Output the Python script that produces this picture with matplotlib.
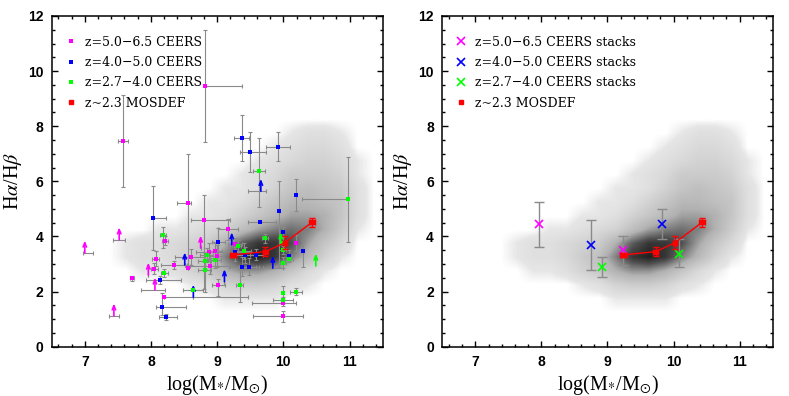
import numpy as np
import matplotlib
matplotlib.use("Agg")
import matplotlib.pyplot as plt
from matplotlib.colors import LinearSegmentedColormap
from matplotlib.ticker import MultipleLocator

plt.rcParams['mathtext.fontset'] = 'stix'

# ---- background cloud: grey level (0 = empty, 10 = black) ----
# cells are 0.25 dex wide in x (7.5..11.5) and 0.5 tall in y (1.5..8.0)
cloud_x_edges = [7.5, 11.5]
cloud_y_edges = [1.5, 8.0]
cloud_density = np.array([
    # x: 7.6  7.9  8.1  8.4  8.6  8.9  9.1  9.4  9.6  9.9 10.1 10.4 10.6 10.9 11.1 11.4
    [0.0, 0.0, 0.0, 0.0, 0.0, 0.0, 0.5, 0.5, 0.5, 0.5, 0.0, 0.0, 0.0, 0.0, 0.0, 0.0],  # y 1.75
    [0.0, 0.0, 0.0, 0.0, 0.5, 1.0, 2.0, 2.5, 2.5, 2.0, 1.0, 0.5, 0.0, 0.0, 0.0, 0.0],  # y 2.25
    [0.0, 0.5, 0.5, 1.0, 2.0, 3.0, 4.5, 5.5, 5.5, 4.5, 3.0, 1.5, 0.5, 0.0, 0.0, 0.0],  # y 2.75
    [0.5, 1.0, 1.0, 1.5, 2.5, 3.5, 6.0, 8.5, 9.5, 8.5, 6.0, 4.0, 2.0, 0.5, 0.0, 0.0],  # y 3.25
    [0.5, 1.0, 1.0, 1.5, 2.0, 2.5, 4.5, 7.0, 8.5, 8.5, 7.5, 5.0, 3.0, 1.5, 0.0, 0.0],  # y 3.75
    [0.0, 0.0, 0.5, 0.5, 1.0, 1.5, 2.0, 3.5, 5.0, 6.0, 6.5, 6.0, 4.5, 2.5, 0.5, 0.0],  # y 4.25
    [0.0, 0.0, 0.0, 0.0, 0.5, 0.5, 1.0, 2.0, 3.0, 4.0, 5.0, 5.0, 4.5, 3.0, 1.0, 0.0],  # y 4.75
    [0.0, 0.0, 0.0, 0.0, 0.0, 0.5, 0.5, 1.0, 2.0, 3.0, 4.0, 4.0, 3.5, 3.0, 1.0, 0.0],  # y 5.25
    [0.0, 0.0, 0.0, 0.0, 0.0, 0.0, 0.5, 0.5, 1.0, 2.0, 3.0, 3.5, 3.0, 2.5, 1.0, 0.0],  # y 5.75
    [0.0, 0.0, 0.0, 0.0, 0.0, 0.0, 0.0, 0.5, 1.0, 1.5, 2.5, 2.5, 2.5, 2.0, 0.5, 0.0],  # y 6.25
    [0.0, 0.0, 0.0, 0.0, 0.0, 0.0, 0.0, 0.0, 0.5, 1.0, 1.5, 2.0, 2.0, 1.5, 0.5, 0.0],  # y 6.75
    [0.0, 0.0, 0.0, 0.0, 0.0, 0.0, 0.0, 0.0, 0.0, 0.5, 1.0, 1.5, 1.5, 1.0, 0.0, 0.0],  # y 7.25
    [0.0, 0.0, 0.0, 0.0, 0.0, 0.0, 0.0, 0.0, 0.0, 0.0, 0.5, 1.0, 1.0, 0.5, 0.0, 0.0],  # y 7.75
])

# ---- left panel: individual CEERS galaxies (x, y, xerr-, xerr+, yerr-, yerr+) ----
mag_x   = [8.82, 7.58, 8.56, 8.80, 9.16, 8.21, 9.27, 10.19, 8.88, 8.97, 8.99, 8.07, 8.61, 8.89, 8.56, 8.05, 7.71, 9.02, 8.19, 9.99, 9.99, 8.35]
mag_y   = [9.45, 7.47, 5.22, 4.58, 4.27, 3.85, 3.73, 3.76, 3.45, 3.48, 3.30, 3.19, 3.25, 2.93, 2.86, 2.82, 2.48, 2.24, 1.79, 1.59, 1.10, 2.97]
mag_xlo = [0.00, 0.075, 0.17, 0.20, 0.15, 0.05, 0.10, 0.00, 0.20, 0.10, 0.10, 0.05, 0.25, 0.30, 0.00, 0.05, 0.03, 0.10, 0.00, 0.46, 0.45, 0.20]
mag_xhi = [0.56, 0.075, 0.05, 0.39, 0.15, 0.05, 0.10, 0.00, 0.70, 0.10, 0.10, 0.05, 0.20, 0.30, 0.00, 0.05, 0.03, 0.10, 1.27, 0.20, 0.30, 0.20]
mag_ylo = [2.02, 1.69, 0.00, 2.50, 0.40, 0.15, 0.20, 0.30, 0.30, 0.30, 0.40, 0.25, 0.30, 0.30, 0.00, 0.20, 0.10, 0.40, 0.00, 0.10, 0.20, 0.15]
mag_yhi = [2.05, 1.68, 0.00, 0.92, 0.35, 0.15, 0.20, 0.30, 0.30, 0.30, 0.40, 0.30, 0.30, 0.30, 4.14, 0.20, 0.10, 0.20, 0.00, 0.10, 0.20, 0.15]

blue_x   = [9.37, 9.49, 9.92, 10.19, 8.03, 9.65, 9.94, 9.99, 9.02, 9.27, 9.42, 9.59, 10.09, 10.29, 9.38, 9.48, 8.13, 8.17, 8.23]
blue_y   = [7.58, 7.05, 7.26, 5.52, 4.67, 4.52, 4.91, 4.18, 3.79, 3.42, 3.33, 3.33, 3.30, 3.49, 2.91, 2.91, 2.42, 1.44, 1.07]
blue_xlo = [0.11, 0.14, 0.18, 0.00, 0.00, 0.19, 0.00, 0.00, 0.10, 0.15, 0.15, 0.10, 0.00, 0.00, 0.20, 0.15, 0.20, 0.09, 0.11]
blue_xhi = [0.11, 0.25, 0.18, 0.00, 0.20, 0.24, 0.00, 0.00, 0.10, 0.15, 0.15, 0.10, 0.00, 0.00, 0.20, 0.15, 0.33, 0.36, 0.16]
blue_ylo = [0.84, 0.71, 0.53, 0.60, 1.15, 0.00, 2.00, 0.15, 0.50, 0.30, 0.30, 0.20, 0.20, 0.60, 0.35, 0.30, 0.15, 0.30, 0.10]
blue_yhi = [0.83, 0.75, 0.54, 0.55, 1.15, 0.00, 1.10, 0.15, 0.50, 0.30, 0.30, 0.20, 0.20, 0.35, 0.35, 0.30, 0.15, 0.50, 0.10]

green_x   = [9.63, 10.98, 9.72, 9.99, 9.99, 9.99, 10.09, 8.18, 8.20, 8.84, 8.81, 8.81, 8.96, 9.31, 9.41, 9.34, 9.99, 9.99, 10.19, 8.64]
green_y   = [6.36, 5.35, 3.93, 3.77, 3.52, 3.05, 3.19, 4.04, 2.67, 3.34, 3.12, 2.79, 3.15, 3.67, 3.48, 2.23, 1.96, 1.70, 2.00, 2.06]
green_xlo = [0.09, 0.70, 0.05, 0.05, 0.05, 0.05, 0.05, 0.05, 0.05, 0.10, 0.10, 0.10, 0.10, 0.05, 0.10, 0.05, 0.00, 0.15, 0.09, 0.15]
green_xhi = [0.09, 0.00, 0.05, 0.05, 0.05, 0.05, 0.05, 0.05, 0.05, 0.10, 0.10, 0.10, 0.10, 0.05, 0.10, 0.05, 0.00, 0.15, 0.09, 0.15]
green_ylo = [1.28, 1.55, 0.15, 0.20, 0.15, 0.20, 0.10, 0.45, 0.15, 0.25, 0.30, 0.80, 0.30, 0.20, 0.30, 0.60, 0.25, 0.10, 0.12, 0.00]
green_yhi = [1.21, 1.55, 0.15, 0.20, 0.15, 0.20, 0.10, 0.30, 0.15, 0.25, 0.30, 0.60, 0.30, 0.20, 0.30, 0.60, 0.25, 0.10, 0.12, 0.00]

# lower limits (arrows)
mag_lim_x   = [7.00, 7.52, 7.44, 7.96, 8.06, 8.75]
mag_lim_y   = [3.40, 3.88, 1.12, 2.60, 2.06, 3.58]
mag_lim_xlo = [0.03, 0.09, 0.075, 0.00, 0.21, 0.00]
mag_lim_xhi = [0.13, 0.09, 0.075, 0.00, 0.15, 0.00]
blue_lim_x   = [9.66, 8.51, 9.22, 9.11, 8.64, 9.84]
blue_lim_y   = [5.64, 2.97, 3.70, 2.36, 1.80, 2.85]
blue_lim_xlo = [0.20, 0.00, 0.00, 0.00, 0.00, 0.15]
blue_lim_xhi = [0.08, 0.00, 0.00, 0.00, 0.00, 0.15]
green_lim_x   = [10.49, 9.96]
green_lim_y   = [2.93, 3.70]

# ---- z~2.3 MOSDEF stacks ----
mosdef_x    = [9.24, 9.73, 10.02, 10.43]
mosdef_y    = [3.33, 3.45, 3.77, 4.51]
mosdef_xerr = [0.05, 0.04, 0.03, 0.05]
mosdef_yerr = [0.08, 0.15, 0.24, 0.17]

# ---- right panel: CEERS stacks ----
stk_mag_x = [7.97, 9.24]
stk_mag_y = [4.44, 3.51]
stk_mag_ylo = [0.83, 0.56]
stk_mag_yhi = [0.80, 0.52]
stk_blue_x = [8.75, 9.82]
stk_blue_y = [3.68, 4.45]
stk_blue_ylo = [0.90, 0.54]
stk_blue_yhi = [0.91, 0.56]
stk_green_x = [8.92, 10.08]
stk_green_y = [2.90, 3.36]
stk_green_ylo = [0.36, 0.48]
stk_green_yhi = [0.37, 0.54]

MAG, BLUE, GREEN, RED = '#ff00ff', '#0000ff', '#00ff00', '#ff0000'
ERRC = '#8a8a8a'
ARROW_LEN = 0.45

cloud_cmap = LinearSegmentedColormap.from_list(
    'cloud', [(0, 'white'), (0.05, '#e6e6e6'), (0.45, '#b2b2b2'),
              (0.75, '#4e4e4e'), (1, '#141414')])


def style_axes(ax):
    ax.set_xlim(6.5, 11.5)
    ax.set_ylim(0, 12)
    ax.xaxis.set_major_locator(MultipleLocator(1))
    ax.xaxis.set_minor_locator(MultipleLocator(0.2))
    ax.yaxis.set_major_locator(MultipleLocator(2))
    ax.yaxis.set_minor_locator(MultipleLocator(0.5))
    ax.tick_params(which='both', direction='in', top=True, right=True, width=1.0)
    ax.tick_params(which='major', length=4.5, labelsize=10, pad=6)
    ax.tick_params(which='minor', length=2.5)
    for lab in ax.get_xticklabels() + ax.get_yticklabels():
        lab.set_fontweight('bold')
        lab.set_family('Liberation Sans')
    for sp in ax.spines.values():
        sp.set_linewidth(1.1)
    ax.set_xlabel(r'log(M$_{*}$/M$_{\odot}$)', family='Liberation Serif', fontsize=14.5, labelpad=3)
    ax.set_ylabel(r'H$\alpha$/H$\beta$', family='Liberation Serif', fontsize=14.5, labelpad=3)


def draw_cloud(ax):
    # pad with one empty cell all round so the cloud fades out instead of ending in a hard edge
    grid = np.pad(cloud_density, 1)
    nrow, ncol = cloud_density.shape
    dx = (cloud_x_edges[1] - cloud_x_edges[0]) / ncol
    dy = (cloud_y_edges[1] - cloud_y_edges[0]) / nrow
    ax.imshow(grid, origin='lower', aspect='auto', cmap=cloud_cmap,
              vmin=0, vmax=10, interpolation='bilinear',
              extent=[cloud_x_edges[0] - dx, cloud_x_edges[1] + dx,
                      cloud_y_edges[0] - dy, cloud_y_edges[1] + dy],
              zorder=0)


def draw_limits(ax, xs, ys, color, xlo=None, xhi=None):
    if xlo is not None:
        ax.errorbar(xs, ys, xerr=[xlo, xhi], fmt='none', ecolor=ERRC,
                    elinewidth=0.8, capsize=1.5, capthick=0.8, zorder=2)
    for x, y in zip(xs, ys):
        ax.annotate('', xy=(x, y + ARROW_LEN), xytext=(x, y),
                    arrowprops=dict(arrowstyle='->,head_length=0.3,head_width=0.12',
                                    color=color, lw=1.2, shrinkA=0, shrinkB=0),
                    zorder=4)


def draw_mosdef(ax, label):
    ax.errorbar(mosdef_x, mosdef_y, xerr=mosdef_xerr, yerr=mosdef_yerr, fmt='s-',
                color=RED, ms=3.5, lw=1.0, elinewidth=1.0, capsize=2, capthick=1.0,
                zorder=6)
    ax.plot([], [], 's', color=RED, ms=2.5, label=label)


fig = plt.figure(figsize=(7.89, 3.96), dpi=100)
axL = fig.add_axes([0.0655, 0.1245, 0.4195, 0.8351])
axR = fig.add_axes([0.5606, 0.1245, 0.4187, 0.8351])

# ---- left panel ----
draw_cloud(axL)
for xs, ys, xlo, xhi, ylo, yhi, c, lab in [
        (mag_x, mag_y, mag_xlo, mag_xhi, mag_ylo, mag_yhi, MAG, 'z=5.0\u22126.5 CEERS'),
        (blue_x, blue_y, blue_xlo, blue_xhi, blue_ylo, blue_yhi, BLUE, 'z=4.0\u22125.0 CEERS'),
        (green_x, green_y, green_xlo, green_xhi, green_ylo, green_yhi, GREEN, 'z=2.7\u22124.0 CEERS')]:
    axL.errorbar(xs, ys, xerr=[xlo, xhi], yerr=[ylo, yhi], fmt='none', ecolor=ERRC,
                 elinewidth=0.8, capsize=1.5, capthick=0.8, zorder=2)
    axL.plot(xs, ys, 's', color=c, ms=3.2, mew=0, zorder=5, label=lab)
draw_limits(axL, mag_lim_x, mag_lim_y, MAG, mag_lim_xlo, mag_lim_xhi)
draw_limits(axL, blue_lim_x, blue_lim_y, BLUE, blue_lim_xlo, blue_lim_xhi)
draw_limits(axL, green_lim_x, green_lim_y, GREEN)
draw_mosdef(axL, 'z~2.3 MOSDEF')
style_axes(axL)

# ---- right panel ----
draw_cloud(axR)
for xs, ys, ylo, yhi, c, lab in [
        (stk_mag_x, stk_mag_y, stk_mag_ylo, stk_mag_yhi, MAG, 'z=5.0\u22126.5 CEERS stacks'),
        (stk_blue_x, stk_blue_y, stk_blue_ylo, stk_blue_yhi, BLUE, 'z=4.0\u22125.0 CEERS stacks'),
        (stk_green_x, stk_green_y, stk_green_ylo, stk_green_yhi, GREEN, 'z=2.7\u22124.0 CEERS stacks')]:
    axR.errorbar(xs, ys, yerr=[ylo, yhi], fmt='none', ecolor=ERRC,
                 elinewidth=1.0, capsize=3.5, capthick=1.0, zorder=2)
    axR.plot(xs, ys, 'x', color=c, ms=6, mew=1.2, zorder=5, label=lab)
draw_mosdef(axR, 'z~2.3 MOSDEF')
style_axes(axR)

for ax in (axL, axR):
    ax.legend(loc='upper left', bbox_to_anchor=(0.039, 0.94), frameon=False,
              borderpad=0, borderaxespad=0, handlelength=1.0, handletextpad=0.6,
              labelspacing=0.58, prop={'family': 'DejaVu Serif', 'size': 9})

fig.savefig('out.png', dpi=100)
